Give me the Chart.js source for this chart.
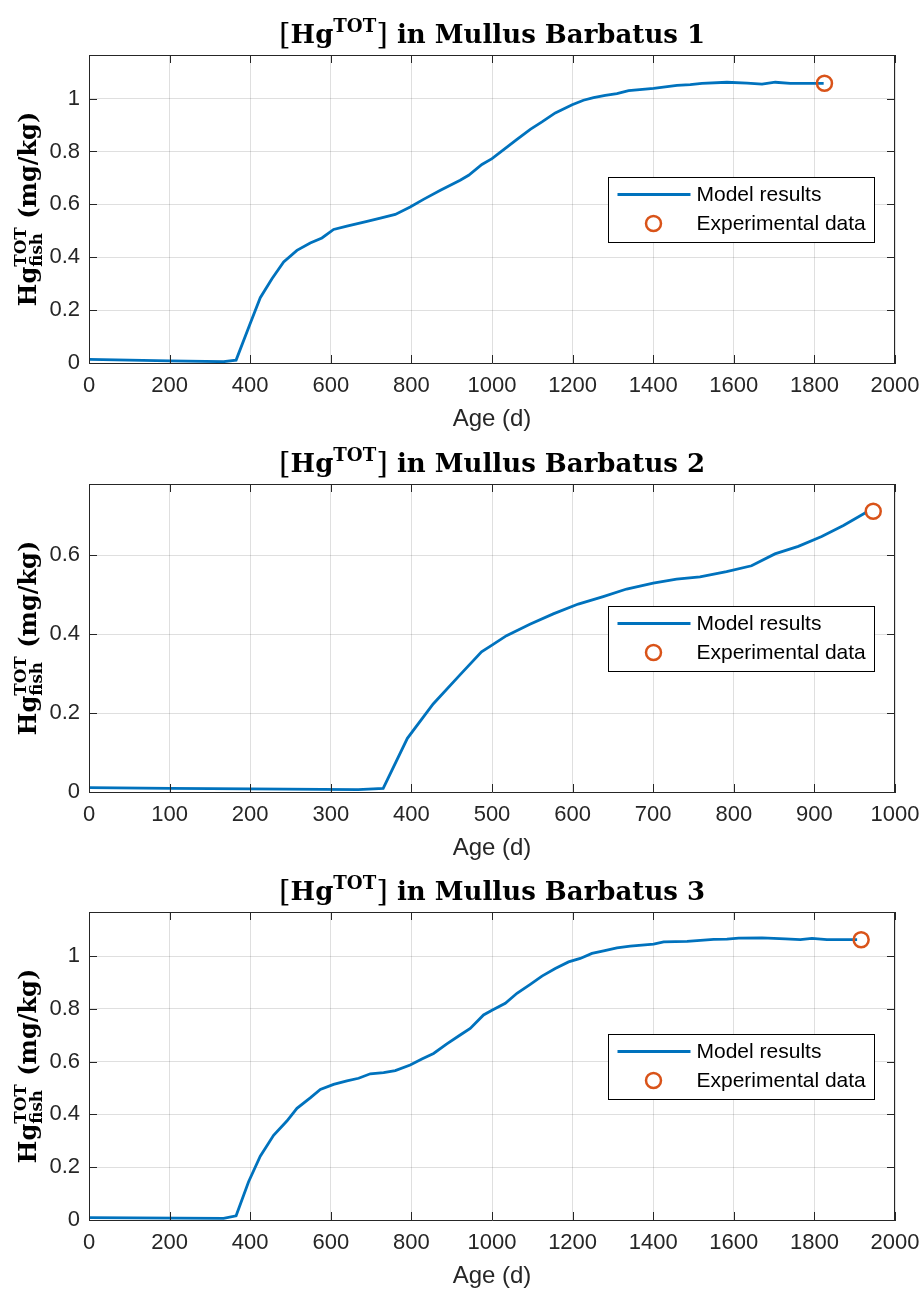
<!DOCTYPE html>
<html>
<head>
<meta charset="utf-8">
<script src="https://cdn.jsdelivr.net/npm/chart.js@4.4.0/dist/chart.umd.min.js"></script>
<style>
  body { margin: 0; background: #fff; }
  #wrap { position: relative; width: 922px; height: 1290px; }
  canvas { position: absolute; left: 0; }
</style>
</head>
<body>
<div id="wrap">
  <canvas id="c1" width="922" height="440" style="top:0px"></canvas>
  <canvas id="c2" width="922" height="430" style="top:440px"></canvas>
  <canvas id="c3" width="922" height="420" style="top:870px"></canvas>
</div>
<script>
// Fish 1 (0 - 2000 d)
const age1 = [0, 200, 334, 365, 400, 425, 454, 483, 516, 549, 578, 607, 640, 690, 723, 760, 797, 830, 872, 921,
  942, 975, 1000, 1029, 1062, 1095, 1124, 1157, 1199, 1227, 1252, 1281, 1310, 1339, 1401, 1459, 1492, 1521,
  1583, 1633, 1670, 1703, 1740, 1798, 1823];
const hg1 = [0.014, 0.008, 0.005, 0.011, 0.149, 0.247, 0.319, 0.382, 0.426, 0.454, 0.473, 0.505, 0.518, 0.536,
  0.548, 0.562, 0.590, 0.619, 0.653, 0.691, 0.710, 0.751, 0.773, 0.807, 0.846, 0.884, 0.912, 0.946, 0.977,
  0.994, 1.004, 1.012, 1.019, 1.030, 1.039, 1.050, 1.053, 1.058, 1.062, 1.059, 1.055, 1.062, 1.058, 1.058, 1.058];
const expAge1 = [1825];
const expHg1 = [1.058];

// Fish 2 (0 - 1000 d)
const age2 = [0, 101, 200, 334, 365, 395, 427, 460, 487, 500, 518, 547, 576, 607, 638, 667, 700, 729, 758, 791,
  822, 851, 880, 909, 936, 965];
const hg2 = [0.011, 0.009, 0.008, 0.006, 0.009, 0.136, 0.223, 0.296, 0.355, 0.372, 0.396, 0.425, 0.451, 0.476,
  0.495, 0.514, 0.529, 0.539, 0.545, 0.558, 0.573, 0.603, 0.622, 0.647, 0.675, 0.709];
const expAge2 = [973];
const expHg2 = [0.711];

// Fish 3 (0 - 2000 d)
const age3 = [0, 334, 365, 396, 425, 458, 491, 516, 549, 574, 607, 640, 669, 698, 731, 760, 797, 826, 855, 888,
  921, 946, 979, 1000, 1033, 1062, 1095, 1124, 1157, 1190, 1219, 1248, 1277, 1310, 1343, 1401, 1426, 1484,
  1550, 1583, 1612, 1670, 1728, 1765, 1794, 1831, 1864, 1906];
const hg3 = [0.009, 0.006, 0.016, 0.145, 0.242, 0.321, 0.375, 0.423, 0.463, 0.495, 0.514, 0.527, 0.537, 0.554,
  0.558, 0.566, 0.587, 0.610, 0.631, 0.667, 0.701, 0.726, 0.777, 0.795, 0.821, 0.859, 0.893, 0.924, 0.953,
  0.978, 0.991, 1.010, 1.020, 1.031, 1.038, 1.045, 1.054, 1.056, 1.063, 1.064, 1.068, 1.069, 1.065, 1.062,
  1.067, 1.062, 1.062, 1.062];
const expAge3 = [1916];
const expHg3 = [1.062];

const titles = ['Mullus Barbatus 1', 'Mullus Barbatus 2', 'Mullus Barbatus 3'];
const xMaxes = [2000, 1000, 2000];
const xSteps = [200, 100, 200];
const yMaxes = [1.165, 0.78, 1.167];
const legendLabels = ['Model results', 'Experimental data'];
const xLabel = 'Age (d)';

const AX = '#262626';
const SERIF = '"DejaVu Serif", "Liberation Serif", serif';
const SANS = '"Liberation Sans", Arial, sans-serif';

// draw text pieces with super/subscripts; seg = {t, s, dy} or {stack: [seg, seg]}
function segWidth(ctx, seg, size) {
  if (seg.stack) return Math.max(...seg.stack.map(s => segWidth(ctx, s, size)));
  ctx.font = (seg.w || 'bold') + ' ' + (size * (seg.s || 1)) + 'px ' + SERIF;
  return ctx.measureText(seg.t).width;
}
function drawRich(ctx, segs, cx, baseY, size) {
  const total = segs.reduce((w, s) => w + segWidth(ctx, s, size), 0);
  let x = cx - total / 2;
  ctx.textAlign = 'left';
  ctx.textBaseline = 'alphabetic';
  segs.forEach(seg => {
    const parts = seg.stack || [seg];
    parts.forEach(p => {
      ctx.font = (p.w || 'bold') + ' ' + (size * (p.s || 1)) + 'px ' + SERIF;
      ctx.fillText(p.t, x, baseY + (p.dy || 0) * size);
    });
    x += segWidth(ctx, seg, size);
  });
}

const matlabFrame = {
  id: 'matlabFrame',
  afterDraw(chart, args, opts) {
    const { ctx, chartArea: a, scales: { x, y } } = chart;
    ctx.save();
    ctx.strokeStyle = AX;
    ctx.lineWidth = 1;
    ctx.beginPath();
    ctx.moveTo(a.left, Math.round(a.top) + 0.5);
    ctx.lineTo(a.right, Math.round(a.top) + 0.5);
    ctx.moveTo(Math.round(a.right) - 0.5, a.top);
    ctx.lineTo(Math.round(a.right) - 0.5, a.bottom);
    x.ticks.forEach(t => {
      const px = Math.round(x.getPixelForValue(t.value)) + 0.5;
      ctx.moveTo(px, a.bottom); ctx.lineTo(px, a.bottom - 8);
      ctx.moveTo(px, a.top); ctx.lineTo(px, a.top + 8);
    });
    y.ticks.forEach(t => {
      const py = Math.round(y.getPixelForValue(t.value)) + 0.5;
      ctx.moveTo(a.left, py); ctx.lineTo(a.left + 8, py);
      ctx.moveTo(a.right, py); ctx.lineTo(a.right - 8, py);
    });
    ctx.stroke();

    // title
    const cx = (a.left + a.right) / 2;
    ctx.fillStyle = '#000';
    drawRich(ctx, [{ t: '[', s: 1.15, dy: 0.05, w: 'normal' }, { t: 'Hg' }, { t: 'TOT', s: 0.7, dy: -0.42 },
      { t: ']', s: 1.15, dy: 0.05, w: 'normal' }, { t: ' in ' + opts.title }], cx, a.top - 12, 26);

    // y label
    ctx.save();
    ctx.translate(36, (a.top + a.bottom) / 2);
    ctx.rotate(-Math.PI / 2);
    drawRich(ctx, [{ t: 'Hg' }, { stack: [{ t: 'TOT', s: 0.7, dy: -0.42 }, { t: 'fish', s: 0.7, dy: 0.26 }] },
      { t: ' (mg/kg)' }], 0, 0, 24);
    ctx.restore();

    // x label
    ctx.fillStyle = AX;
    ctx.font = '24px ' + SANS;
    ctx.textAlign = 'center';
    ctx.textBaseline = 'alphabetic';
    ctx.fillText(xLabel, cx, a.bottom + 63);

    // legend box
    const lw = 266, lh = 65;
    const lx = Math.round(a.right - 21 - lw) + 0.5, ly = Math.round(a.top + 122) + 0.5;
    ctx.fillStyle = '#fff';
    ctx.fillRect(lx, ly, lw, lh);
    ctx.strokeStyle = '#000';
    ctx.lineWidth = 1;
    ctx.strokeRect(lx, ly, lw, lh);
    const model = chart.data.datasets[0], exp = chart.data.datasets[1];
    ctx.strokeStyle = model.borderColor;
    ctx.lineWidth = model.borderWidth;
    ctx.beginPath();
    ctx.moveTo(lx + 9, ly + 17); ctx.lineTo(lx + 82, ly + 17);
    ctx.stroke();
    ctx.strokeStyle = exp.pointBorderColor;
    ctx.lineWidth = exp.pointBorderWidth;
    ctx.beginPath();
    ctx.arc(lx + 45, ly + 46, exp.pointRadius, 0, Math.PI * 2);
    ctx.stroke();
    ctx.fillStyle = '#000';
    ctx.font = '21px ' + SANS;
    ctx.textAlign = 'left';
    ctx.textBaseline = 'middle';
    ctx.fillText(legendLabels[0], lx + 88, ly + 18);
    ctx.fillText(legendLabels[1], lx + 88, ly + 47);
    ctx.restore();
  }
};

function makeChart(canvasId, ages, values, expAges, expValues, idx, padTop, axisH) {
  const ctx = document.getElementById(canvasId).getContext('2d');
  const line = ages.map((a, i) => ({ x: a, y: values[i] }));
  const pts = expAges.map((a, i) => ({ x: a, y: expValues[i] }));
  return new Chart(ctx, {
    type: 'scatter',
    data: {
      datasets: [{
        label: legendLabels[0],
        data: line,
        showLine: true,
        borderColor: '#0072BD',
        borderWidth: 2.8,
        pointRadius: 0,
        tension: 0,
        order: 2
      }, {
        label: legendLabels[1],
        data: pts,
        showLine: false,
        pointStyle: 'circle',
        pointRadius: 7.5,
        pointBorderWidth: 2.5,
        pointBorderColor: '#D95319',
        pointBackgroundColor: 'rgba(0,0,0,0)',
        borderColor: '#D95319',
        backgroundColor: 'rgba(0,0,0,0)',
        order: 1
      }]
    },
    options: {
      responsive: false,
      animation: false,
      events: [],
      layout: { padding: { top: padTop, right: 27, left: 0, bottom: 0 } },
      plugins: {
        legend: { display: false },
        tooltip: { enabled: false },
        title: { display: false },
        matlabFrame: { title: titles[idx] }
      },
      scales: {
        x: {
          type: 'linear',
          min: 0,
          max: xMaxes[idx],
          afterFit: s => { s.height = axisH; s.paddingLeft = 0; s.paddingRight = 0; },
          grid: { color: 'rgba(38,38,38,0.15)', drawTicks: false },
          border: { display: true, color: AX, width: 1 },
          ticks: {
            stepSize: xSteps[idx],
            padding: 10,
            color: AX,
            font: { family: SANS, size: 22 },
            callback: v => String(v)
          }
        },
        y: {
          min: 0,
          max: yMaxes[idx],
          afterFit: s => { s.width = 89; s.paddingTop = 0; s.paddingBottom = 0; },
          grid: { color: 'rgba(38,38,38,0.15)', drawTicks: false },
          border: { display: true, color: AX, width: 1 },
          ticks: {
            stepSize: 0.2,
            includeBounds: false,
            padding: 9,
            color: AX,
            font: { family: SANS, size: 22 },
            callback: v => String(+v.toFixed(2))
          }
        }
      }
    },
    plugins: [matlabFrame]
  });
}

makeChart('c1', age1, hg1, expAge1, expHg1, 0, 55, 77);
makeChart('c2', age2, hg2, expAge2, expHg2, 1, 44, 78);
makeChart('c3', age3, hg3, expAge3, expHg3, 2, 42, 70);
</script>
</body>
</html>
